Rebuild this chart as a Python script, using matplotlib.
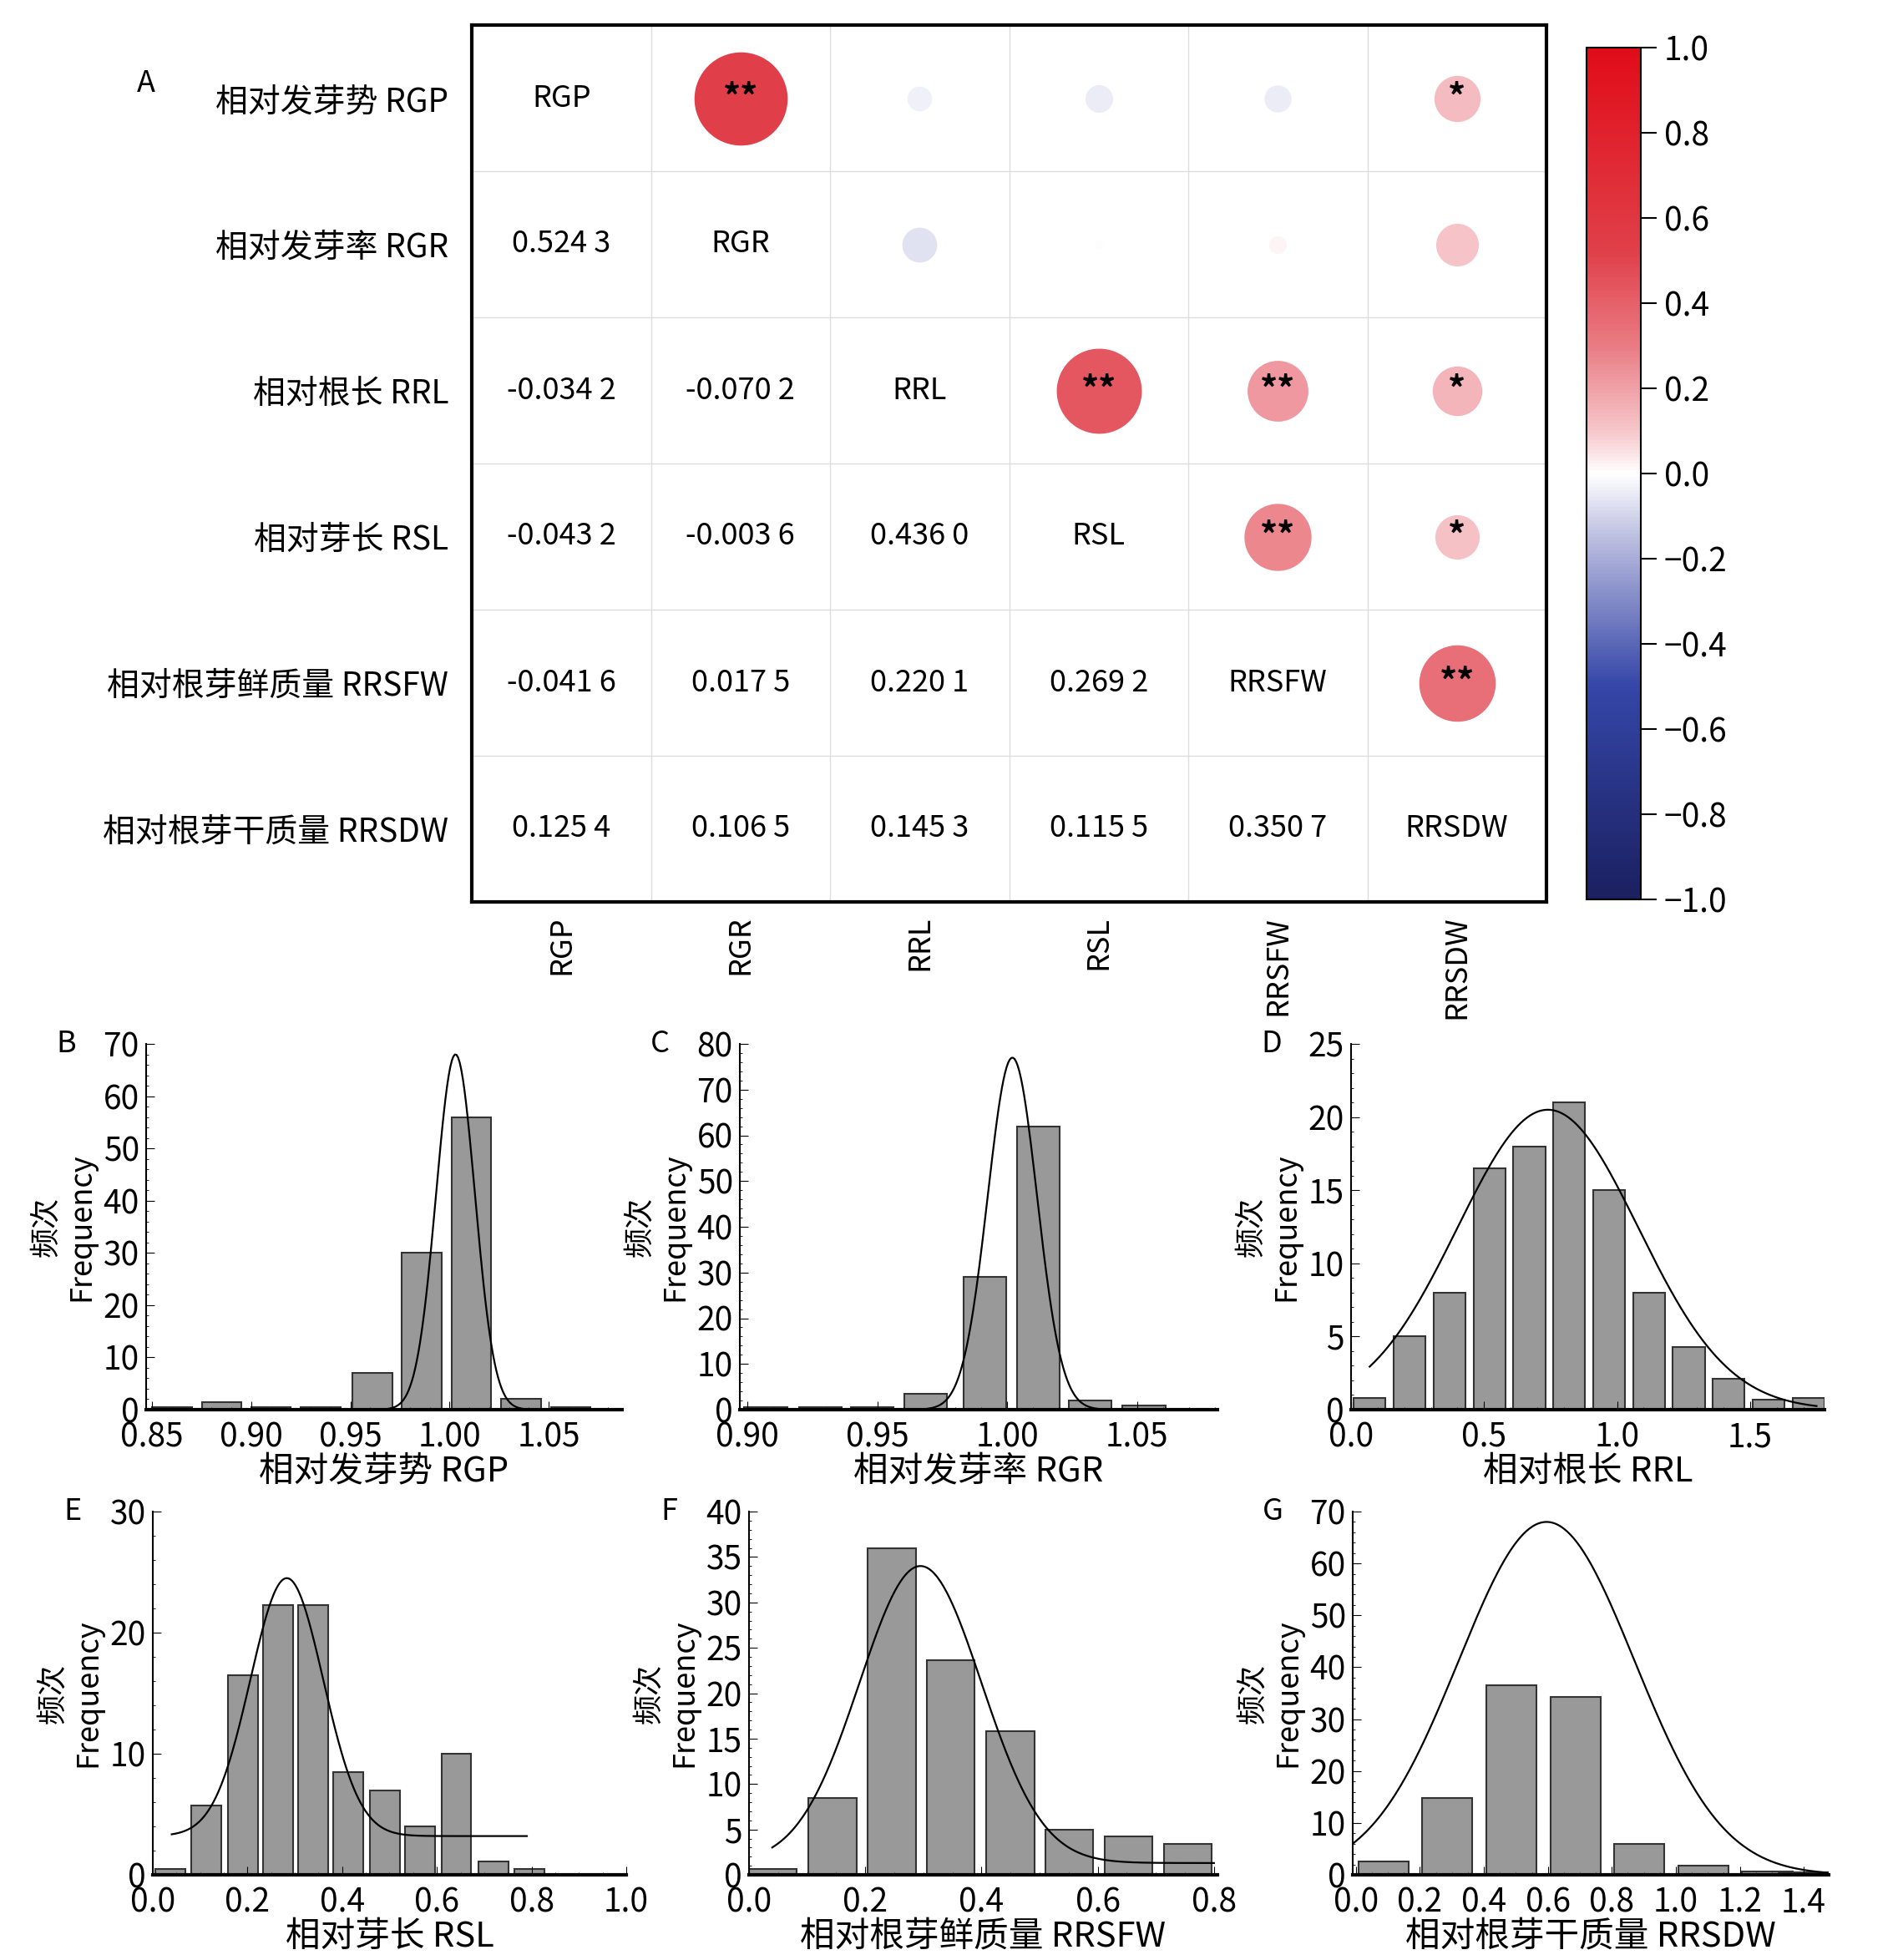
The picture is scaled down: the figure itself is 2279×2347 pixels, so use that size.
import numpy as np
import matplotlib.pyplot as plt
from matplotlib.colors import LinearSegmentedColormap, Normalize
from matplotlib.cm import ScalarMappable

plt.rcParams['font.family'] = ['Noto Sans CJK SC', 'DejaVu Sans']
plt.rcParams['font.size'] = 22

# ---- Data ----
short = ["RGP", "RGR", "RRL", "RSL", "RRSFW", "RRSDW"]
row_labels = ["相对发芽势 RGP", "相对发芽率 RGR", "相对根长 RRL",
              "相对芽长 RSL", "相对根芽鲜质量 RRSFW", "相对根芽干质量 RRSDW"]
corr = np.array([
    [1.0,     0.5243, -0.0342, -0.0432, -0.0416, 0.1254],
    [0.5243,  1.0,    -0.0702, -0.0036,  0.0175, 0.1065],
    [-0.0342, -0.0702, 1.0,     0.4360,  0.2201, 0.1453],
    [-0.0432, -0.0036, 0.4360,  1.0,     0.2692, 0.1155],
    [-0.0416,  0.0175, 0.2201,  0.2692,  1.0,    0.3507],
    [0.1254,   0.1065, 0.1453,  0.1155,  0.3507, 1.0],
])
stars = {(0, 1): "**", (0, 5): "*", (2, 3): "**", (2, 4): "**", (2, 5): "*",
         (3, 4): "**", (3, 5): "*", (4, 5): "**"}

hB_x = [0.860, 0.885, 0.910, 0.935, 0.961, 0.986, 1.011, 1.036, 1.061]
hB_y = [0.5, 1.5, 0.5, 0.5, 7, 30, 56, 2, 0.5]
hC_x = [0.907, 0.928, 0.948, 0.9686, 0.9913, 1.0121, 1.032, 1.0527]
hC_y = [0.5, 0.5, 0.5, 3.5, 29, 62, 2, 1]
hD_x = [0.07, 0.22, 0.37, 0.52, 0.67, 0.82, 0.97, 1.12, 1.27, 1.42, 1.57, 1.72]
hD_y = [0.8, 5, 8, 16.5, 18, 21, 15, 8, 4.3, 2.1, 0.7, 0.8]
hE_x = [0.037, 0.113, 0.19, 0.265, 0.339, 0.413, 0.49, 0.564, 0.641, 0.72, 0.795]
hE_y = [0.5, 5.7, 16.5, 22.3, 22.3, 8.5, 7, 4, 10, 1.1, 0.5]
hF_x = [0.041, 0.144, 0.246, 0.347, 0.45, 0.551, 0.653, 0.755]
hF_y = [0.6, 8.5, 36, 23.6, 15.8, 5, 4.2, 3.4]
hG_x = [0.086, 0.286, 0.486, 0.686, 0.886, 1.086, 1.286, 1.40]
hG_y = [2.5, 14.8, 36.5, 34.3, 6, 1.8, 0.6, 0.5]

# curve = (mean, sigma, amplitude, offset, x_start, x_end)
panels = [
    ("B", hB_x, hB_y, 0.020, (0.847, 1.087), [0.85, 0.90, 0.95, 1.00, 1.05], (0, 70), range(0, 71, 10),
     "相对发芽势 RGP", (1.003, 0.0098, 68, 0, 0.847, 1.087), [175, 1250, 745, 1688], "{:.2f}"),
    ("C", hC_x, hC_y, 0.0165, (0.897, 1.081), [0.90, 0.95, 1.00, 1.05], (0, 80), range(0, 81, 10),
     "相对发芽率 RGR", (1.002, 0.0095, 77, 0, 0.897, 1.081), [886, 1250, 1458, 1688], "{:.2f}"),
    ("D", hD_x, hD_y, 0.12, (0, 1.78), [0.0, 0.5, 1.0, 1.5], (0, 25), range(0, 26, 5),
     "相对根长 RRL", (0.74, 0.34, 20.5, 0, 0.07, 1.75), [1618, 1250, 2185, 1688], "{:.1f}"),
    ("E", hE_x, hE_y, 0.063, (0, 1.0), [0.0, 0.2, 0.4, 0.6, 0.8, 1.0], (0, 30), range(0, 31, 10),
     "相对芽长 RSL", (0.283, 0.077, 21.3, 3.2, 0.04, 0.79), [183, 1810, 750, 2245], "{:.1f}"),
    ("F", hF_x, hF_y, 0.083, (0, 0.806), [0.0, 0.2, 0.4, 0.6, 0.8], (0, 40), range(0, 41, 5),
     "相对根芽鲜质量 RRSFW", (0.295, 0.105, 32.7, 1.3, 0.04, 0.80), [897, 1810, 1458, 2245], "{:.1f}"),
    ("G", hG_x, hG_y, 0.157, (-0.01, 1.478), [0.0, 0.2, 0.4, 0.6, 0.8, 1.0, 1.2, 1.4], (0, 70), range(0, 71, 10),
     "相对根芽干质量 RRSDW", (0.596, 0.275, 68, 0, -0.01, 1.478), [1620, 1810, 2190, 2245], "{:.1f}"),
]

W, H = 2279, 2347
fig = plt.figure(figsize=(W / 100, H / 100), dpi=100)


def box(x0, y0, x1, y1):
    return [x0 / W, 1 - y1 / H, (x1 - x0) / W, (y1 - y0) / H]


cmap = LinearSegmentedColormap.from_list(
    "bwr2", [(0.0, "#1b2060"), (0.25, "#3446a8"), (0.42, "#b8bade"), (0.5, "#ffffff"),
             (0.55, "#f6c6ca"), (0.65, "#ea7c84"), (0.76, "#e0404a"), (1.0, "#e00c18")])
norm = Normalize(-1, 1)

# ---- Panel A: correlation matrix ----
ax = fig.add_axes(box(565, 30, 1852, 1080))
n = len(short)
ax.set_xlim(-0.5, n - 0.5)
ax.set_ylim(n - 0.5, -0.5)
for k in range(1, n):
    ax.axhline(k - 0.5, color="#dddddd", lw=1)
    ax.axvline(k - 0.5, color="#dddddd", lw=1)
for i in range(n):
    for j in range(n):
        r = corr[i, j]
        if i == j:
            ax.text(j, i, short[i], ha="center", va="center", fontsize=26)
        elif i > j:
            s = f"{r:.4f}"
            ax.text(j, i, s[:-1] + " " + s[-1], ha="center", va="center", fontsize=26)
        else:
            ax.scatter(j, i, s=12000 * abs(r), color=cmap(norm(r)), zorder=3)
            if (i, j) in stars:
                ax.text(j, i, stars[(i, j)], ha="center", va="center", fontsize=30,
                        fontweight="bold", zorder=4)
ax.set_xticks(range(n))
ax.set_xticklabels(short, rotation=90, fontsize=26)
ax.set_yticks(range(n))
ax.set_yticklabels(row_labels, fontsize=28)
ax.tick_params(axis="y", length=0, pad=20)
ax.tick_params(axis="x", length=0, pad=12)
for sp in ax.spines.values():
    sp.set_linewidth(3)
fig.text(175 / W, 1 - 100 / H, "A", fontsize=26, ha="center", va="center")

cax = fig.add_axes(box(1900, 57, 1965, 1077))
ticks = np.arange(-1, 1.01, 0.2)
cb = fig.colorbar(ScalarMappable(norm=norm, cmap=cmap), cax=cax, ticks=ticks)
cb.ax.set_yticklabels([f"{t:.1f}".replace("-0.0", "0.0").replace("-", "−") for t in ticks], fontsize=28)
cb.ax.tick_params(length=14, width=1.5, pad=6)
cb.outline.set_linewidth(1.5)

# ---- Panels B-G: histograms ----
for (letter, xs, ys, w, xl, xt, yl, yt, xlabel, cv, pos, fmt) in panels:
    a = fig.add_axes(box(*pos))
    a.bar(xs, ys, width=w, color="#999999", edgecolor="#333333", linewidth=1.5)
    mu, sg, amp, off, c0, c1 = cv
    xx = np.linspace(c0, c1, 300)
    a.plot(xx, off + amp * np.exp(-(xx - mu) ** 2 / (2 * sg ** 2)), color="black", lw=1.6)
    a.set_xlim(xl)
    a.set_ylim(yl)
    a.set_xticks(xt)
    a.set_xticklabels([fmt.format(t) for t in xt], fontsize=28)
    a.set_yticks(list(yt))
    a.set_yticklabels([str(t) for t in yt], fontsize=28)
    a.minorticks_on()
    a.tick_params(direction="in", which="both")
    a.tick_params(which="major", length=7)
    a.tick_params(axis="x", pad=10)
    a.tick_params(axis="y", pad=6)
    a.spines["top"].set_visible(False)
    a.spines["right"].set_visible(False)
    a.spines["bottom"].set_linewidth(3)
    a.spines["left"].set_linewidth(1.5)
    a.set_xlabel(xlabel, fontsize=30, labelpad=0)
    a.set_ylabel("频次\nFrequency", fontsize=26, labelpad=6)
    bb = a.get_position()
    fig.text(bb.x0 - 0.042, bb.y1, letter, fontsize=26, ha="center", va="center")

fig.savefig("out.png", dpi=100, facecolor="white")
